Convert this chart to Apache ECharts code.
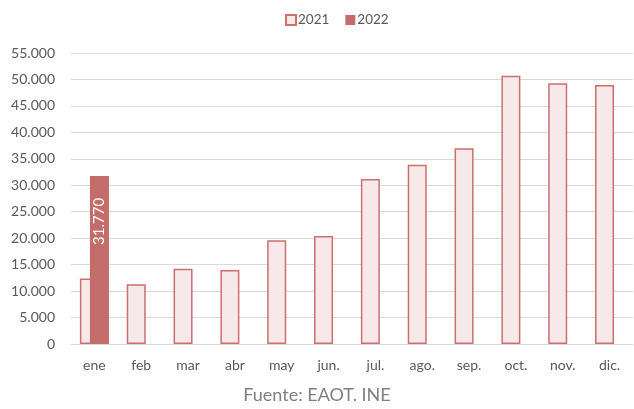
<!DOCTYPE html>
<html>
<head>
    <meta charset="utf-8">
    <title>Pernoctaciones</title>
    <script src="https://cdn.jsdelivr.net/npm/echarts@6/dist/echarts.min.js"></script>
    <style>
        html, body { margin: 0; padding: 0; background: #fff; }
        #chart { width: 634px; height: 409px; }
    </style>
</head>
<body>
    <div id="chart"></div>
    <script type="text/javascript">
        var meses = ["ene", "feb", "mar", "abr", "may", "jun.", "jul.", "ago.", "sep.", "oct.", "nov.", "dic."];
        var datos2021 = [12400, 11300, 14200, 14000, 19600, 20400, 31200, 33900, 37000, 50700, 49300, 48950];
        var datos2022 = [31770, null, null, null, null, null, null, null, null, null, null, null];
        var fuente = "Fuente: EAOT. INE";

        // miles con punto
        function fmt(v) {
            return String(v).replace(/\B(?=(\d{3})+(?!\d))/g, ".");
        }

        var chart = echarts.init(document.getElementById("chart"));
        var fontFam = "Lato, 'Open Sans', sans-serif";
        var option = {
            animation: false,
            textStyle: { fontFamily: fontFam },
            legend: {
                top: 8,
                left: 280,
                icon: 'rect',
                itemWidth: 10,
                itemHeight: 10,
                itemGap: 16,
                textStyle: { fontSize: 13.5, color: '#595959', fontFamily: fontFam, padding: [0, 0, 0, -3] },
                data: ['2021', '2022']
            },
            title: {
                text: fuente,
                left: 'center',
                bottom: 0,
                textStyle: { fontSize: 18, fontWeight: 'normal', color: '#808080', fontFamily: fontFam }
            },
            grid: { left: 71, right: 1, top: 53, bottom: 65 },
            xAxis: {
                type: 'category',
                data: meses,
                axisLine: { lineStyle: { color: '#d9d9d9', width: 1 } },
                axisTick: { show: false },
                axisLabel: { color: '#595959', fontSize: 14, margin: 14, fontFamily: fontFam }
            },
            yAxis: {
                type: 'value',
                min: 0,
                max: 55000,
                interval: 5000,
                axisLine: { show: false },
                axisTick: { show: false },
                splitLine: { lineStyle: { color: '#d9d9d9', width: 1 } },
                axisLabel: {
                    color: '#595959', fontSize: 14, margin: 16, fontFamily: fontFam,
                    formatter: function (v) { return fmt(v); }
                }
            },
            series: [
                {
                    name: '2021',
                    type: 'bar',
                    data: datos2021,
                    barWidth: 19,
                    barGap: '-47%',
                    itemStyle: { color: '#f7e9e9', borderColor: '#cd6f6d', borderWidth: 1.5 }
                },
                {
                    name: '2022',
                    type: 'bar',
                    data: datos2022,
                    barWidth: 19,
                    itemStyle: { color: '#c46c6a' },
                    label: {
                        show: true,
                        position: 'insideTop',
                        rotate: 90,
                        align: 'right',
                        verticalAlign: 'middle',
                        distance: 22,
                        color: '#ffffff',
                        fontSize: 15,
                        fontFamily: fontFam,
                        formatter: function (p) { return fmt(p.value); }
                    }
                }
            ]
        };
        chart.setOption(option);
    </script>
</body>
</html>
